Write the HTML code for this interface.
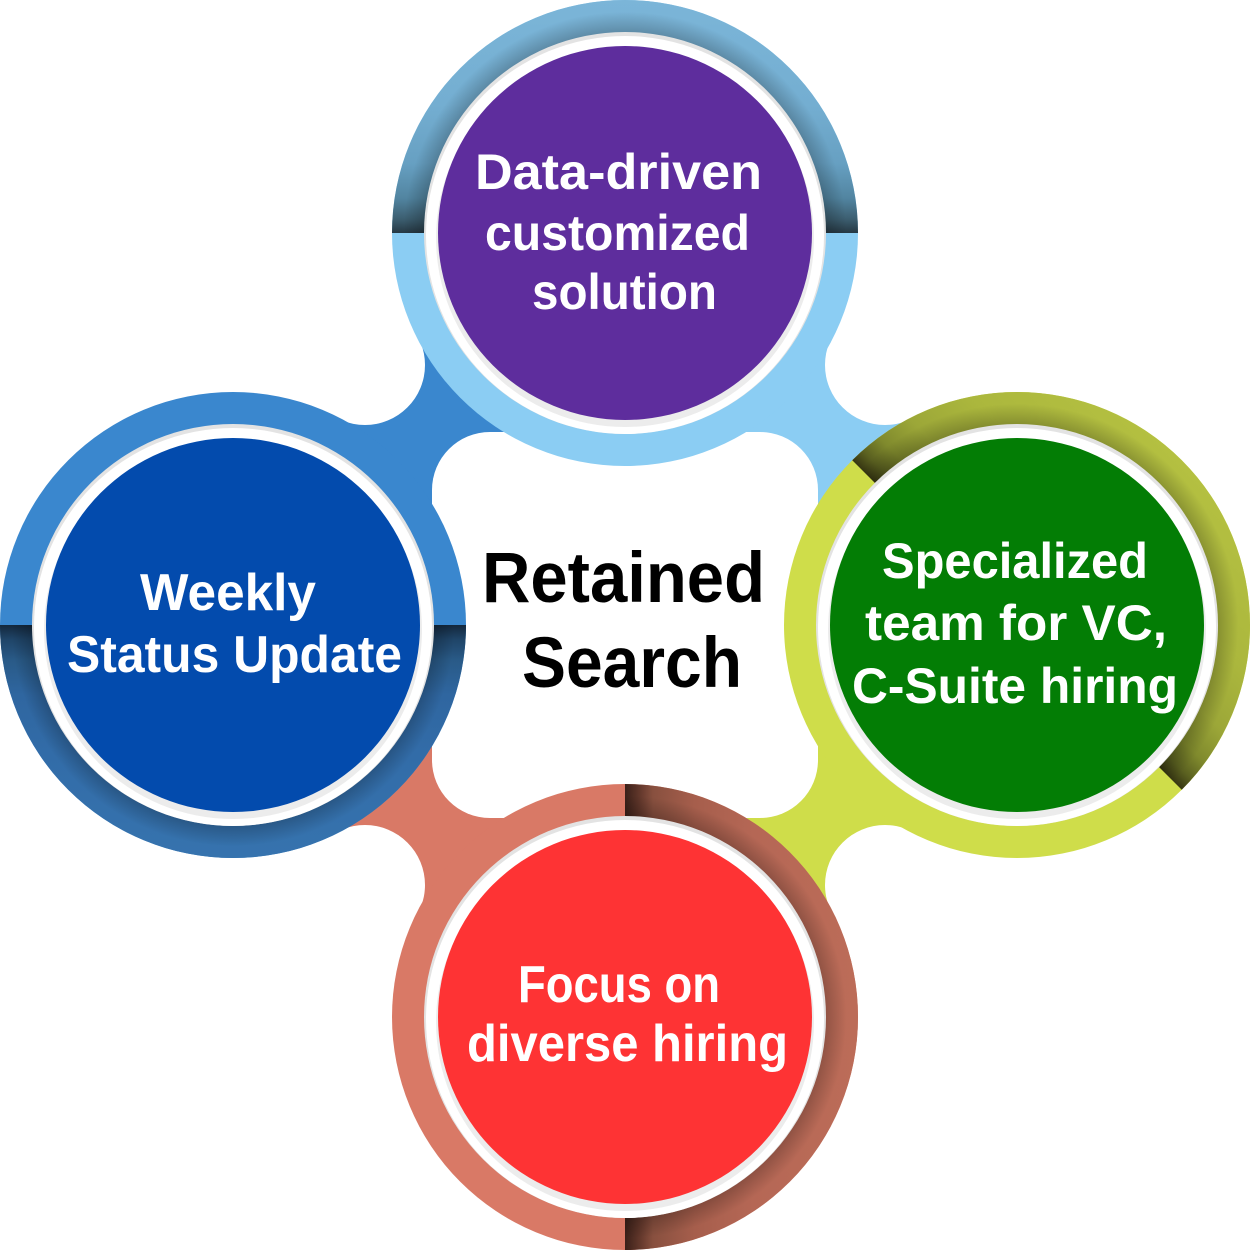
<!DOCTYPE html>
<html>
<head>
<meta charset="utf-8">
<style>
  html,body{margin:0;padding:0;background:#ffffff;}
  svg{display:block;}
  text{font-family:"Liberation Sans", Arial, sans-serif;font-weight:bold;}
</style>
</head>
<body>
<svg width="1250" height="1250" viewBox="0 0 1250 1250" xmlns="http://www.w3.org/2000/svg">
  <defs>
    <linearGradient id="gTop" gradientUnits="userSpaceOnUse" x1="625" y1="233" x2="625" y2="0">
      <stop offset="0" stop-color="#263843"/>
      <stop offset="0.06" stop-color="#3C5E70"/>
      <stop offset="0.15" stop-color="#5285A1"/>
      <stop offset="0.3" stop-color="#67A0C2"/>
      <stop offset="0.55" stop-color="#74AED1"/>
      <stop offset="1" stop-color="#7BB5D8"/>
    </linearGradient>
    <linearGradient id="gLeft" gradientUnits="userSpaceOnUse" x1="233" y1="625" x2="233" y2="858">
      <stop offset="0" stop-color="#14283D"/>
      <stop offset="0.06" stop-color="#1F4467"/>
      <stop offset="0.15" stop-color="#295A87"/>
      <stop offset="0.3" stop-color="#2F66A0"/>
      <stop offset="0.55" stop-color="#326CA8"/>
      <stop offset="1" stop-color="#3673AE"/>
    </linearGradient>
    <linearGradient id="gRight" gradientUnits="userSpaceOnUse" x1="1017" y1="625" x2="1182" y2="460">
      <stop offset="0" stop-color="#363612"/>
      <stop offset="0.06" stop-color="#5A6020"/>
      <stop offset="0.15" stop-color="#808A2D"/>
      <stop offset="0.3" stop-color="#9CA738"/>
      <stop offset="0.55" stop-color="#ABB73D"/>
      <stop offset="1" stop-color="#B4C041"/>
    </linearGradient>
    <linearGradient id="gBottom" gradientUnits="userSpaceOnUse" x1="625" y1="1017" x2="858" y2="1017">
      <stop offset="0" stop-color="#3A2019"/>
      <stop offset="0.06" stop-color="#60362A"/>
      <stop offset="0.12" stop-color="#88503F"/>
      <stop offset="0.3" stop-color="#A65E4C"/>
      <stop offset="0.55" stop-color="#B56755"/>
      <stop offset="1" stop-color="#BC6C58"/>
    </linearGradient>
    <radialGradient id="shade" gradientUnits="objectBoundingBox" cx="0.5" cy="0.5" r="0.5">
      <stop offset="0.86" stop-color="#000" stop-opacity="0.22"/>
      <stop offset="0.95" stop-color="#000" stop-opacity="0"/>
      <stop offset="1" stop-color="#000" stop-opacity="0"/>
    </radialGradient>
    <clipPath id="cTop"><rect x="0" y="0" width="1250" height="233"/></clipPath>
    <clipPath id="cLeft"><rect x="0" y="625" width="1250" height="625"/></clipPath>
    <clipPath id="cBottom"><rect x="625" y="0" width="625" height="1250"/></clipPath>
    <clipPath id="cRight"><polygon points="717,325 1317,925 1317,325"/></clipPath>
  </defs>

  <rect x="0" y="0" width="1250" height="1250" fill="#ffffff"/>

  <!-- connectors -->
  <polygon points="625,233 365,365 233,625 625,625" fill="#3A87CE"/>
  <polygon points="625,233 885,365 1017,625 625,625" fill="#8BCDF3"/>
  <polygon points="1017,625 885,885 625,1017 625,625" fill="#CFDD4A"/>
  <polygon points="625,1017 365,885 233,625 625,625" fill="#D97966"/>

  <!-- white notches -->
  <circle cx="365" cy="365" r="60" fill="#ffffff"/>
  <circle cx="885" cy="365" r="60" fill="#ffffff"/>
  <circle cx="885" cy="885" r="60" fill="#ffffff"/>
  <circle cx="365" cy="885" r="60" fill="#ffffff"/>

  <!-- center white -->
  <rect x="432" y="432" width="386" height="386" rx="58" ry="58" fill="#ffffff"/>

  <!-- TOP circle -->
  <circle cx="625" cy="233" r="233" fill="#8BCDF3"/>
  <g clip-path="url(#cTop)">
    <circle cx="625" cy="233" r="233" fill="url(#gTop)"/>
    <circle cx="625" cy="233" r="233" fill="url(#shade)"/>
  </g>
  <circle cx="625" cy="233" r="201" fill="#E3E3E3"/>
  <circle cx="625" cy="235" r="199" fill="#ffffff"/>
  <circle cx="625" cy="238" r="189" fill="#ECECEC"/>
  <circle cx="625" cy="233" r="187" fill="#5E2D9D"/>

  <!-- LEFT circle -->
  <circle cx="233" cy="625" r="233" fill="#3A87CE"/>
  <g clip-path="url(#cLeft)">
    <circle cx="233" cy="625" r="233" fill="url(#gLeft)"/>
    <circle cx="233" cy="625" r="233" fill="url(#shade)"/>
  </g>
  <circle cx="233" cy="625" r="201" fill="#E3E3E3"/>
  <circle cx="233" cy="627" r="199" fill="#ffffff"/>
  <circle cx="233" cy="630" r="189" fill="#ECECEC"/>
  <circle cx="233" cy="625" r="187" fill="#034BAD"/>

  <!-- RIGHT circle -->
  <circle cx="1017" cy="625" r="233" fill="#CFDD4A"/>
  <g clip-path="url(#cRight)">
    <circle cx="1017" cy="625" r="233" fill="url(#gRight)"/>
    <circle cx="1017" cy="625" r="233" fill="url(#shade)"/>
  </g>
  <circle cx="1017" cy="625" r="201" fill="#E3E3E3"/>
  <circle cx="1017" cy="627" r="199" fill="#ffffff"/>
  <circle cx="1017" cy="630" r="189" fill="#ECECEC"/>
  <circle cx="1017" cy="625" r="187" fill="#037D05"/>

  <!-- BOTTOM circle -->
  <circle cx="625" cy="1017" r="233" fill="#D97966"/>
  <g clip-path="url(#cBottom)">
    <circle cx="625" cy="1017" r="233" fill="url(#gBottom)"/>
    <circle cx="625" cy="1017" r="233" fill="url(#shade)"/>
  </g>
  <circle cx="625" cy="1017" r="201" fill="#E3E3E3"/>
  <circle cx="625" cy="1019" r="199" fill="#ffffff"/>
  <circle cx="625" cy="1022" r="189" fill="#ECECEC"/>
  <circle cx="625" cy="1017" r="187" fill="#FE3334"/>

  <!-- texts -->
  <g fill="#ffffff" font-size="50">
    <text x="475" y="189" textLength="287" lengthAdjust="spacingAndGlyphs">Data-driven</text>
    <text x="485" y="250" textLength="265" lengthAdjust="spacingAndGlyphs">customized</text>
    <text x="532" y="309" textLength="185" lengthAdjust="spacingAndGlyphs">solution</text>

    <text x="882" y="578" textLength="266" lengthAdjust="spacingAndGlyphs">Specialized</text>
    <text x="865" y="640" textLength="302" lengthAdjust="spacingAndGlyphs">team for VC,</text>
    <text x="852" y="703" textLength="326" lengthAdjust="spacingAndGlyphs">C-Suite hiring</text>
  </g>
  <g fill="#ffffff" font-size="52">
    <text x="140" y="610" textLength="176" lengthAdjust="spacingAndGlyphs">Weekly</text>
    <text x="67" y="672" textLength="335" lengthAdjust="spacingAndGlyphs">Status Update</text>

    <text x="518" y="1002" textLength="202" lengthAdjust="spacingAndGlyphs">Focus on</text>
    <text x="467" y="1061" textLength="321" lengthAdjust="spacingAndGlyphs">diverse hiring</text>
  </g>
  <g fill="#000000" font-size="71">
    <text x="482" y="602" textLength="283" lengthAdjust="spacingAndGlyphs">Retained</text>
    <text x="522" y="687" textLength="220" lengthAdjust="spacingAndGlyphs">Search</text>
  </g>
</svg>
</body>
</html>
